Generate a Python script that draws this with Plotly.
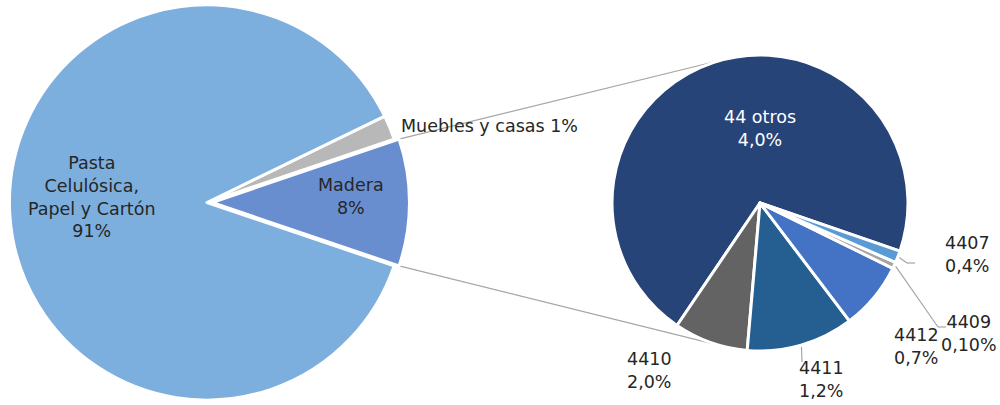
import math
import plotly.graph_objects as go

# ---------------- data ----------------
main_labels = ["Madera", "Muebles y casas", "Pasta Celulósica, Papel y Cartón"]
main_values = [10.4, 2.0, 87.6]          # slice sizes as drawn in the picture
main_text = ["Madera<br>8%", "Muebles y casas 1%",
             "Pasta<br>Celulósica,<br>Papel y Cartón<br>91%"]

sub_labels = ["44 otros", "4410", "4411", "4412", "4409", "4407"]
sub_values = [70.8, 8.1, 11.7, 7.4, 0.7, 1.3]  # slice sizes as drawn
sub_pct = ["4,0%", "2,0%", "1,2%", "0,7%", "0,10%", "0,4%"]

# ---------------- styles ----------------
W, H = 1000, 405
main_colors = ["#698ED0", "#B8B8B8", "#7CAFDD"]
sub_colors = ["#264478", "#636363", "#255E91", "#4472C4", "#A5A5A5", "#5B9BD5"]
pull_madera = 0.025
L_dom_x, L_dom_y = [0.0045, 0.4095], [0.0, 1.0]
R_dom_x, R_dom_y = [0.612, 0.908], [54 / 405, 350 / 405]
sub_start_deg = -19.0            # where "44 otros" starts (ccw from east)
FONT = "DejaVu Sans"
FS = 17.5
TXT = "#262626"
LINE = "#A6A6A6"

tot_m = sum(main_values)
frac_m = main_values[0] / tot_m
tot_s = sum(sub_values)

# plotly rotation: clockwise from 12 o'clock, first slice spans [rot, rot+a1] for ccw
rot_left = 90 - frac_m * 180
rot_right = (90 - sub_start_deg) - sub_values[0] / tot_s * 360

fig = go.Figure()
fig.add_trace(go.Pie(
    labels=main_labels, values=main_values, sort=False, direction="counterclockwise",
    rotation=rot_left, pull=[pull_madera, 0, 0], textinfo="none", hoverinfo="label+percent",
    marker=dict(colors=main_colors, line=dict(color="white", width=3)),
    domain=dict(x=L_dom_x, y=L_dom_y), showlegend=False))
fig.add_trace(go.Pie(
    labels=sub_labels, values=sub_values, sort=False, direction="counterclockwise",
    rotation=rot_right, textinfo="none", hoverinfo="label+percent",
    marker=dict(colors=sub_colors, line=dict(color="white", width=3)),
    domain=dict(x=R_dom_x, y=R_dom_y), showlegend=False))

# ---------- geometry replicated from plotly's pie layout (px, y down) ----------
def pie_geom(dx, dy, maxpull):
    bw, bh = W * (dx[1] - dx[0]), H * (dy[1] - dy[0])
    r = min(bw, bh) / (2 + 2 * maxpull)
    cx = W * (dx[0] + dx[1]) / 2
    cy = H * (1 - dy[0]) - bh / 2
    return cx, cy, r

cxL, cyL, rL = pie_geom(L_dom_x, L_dom_y, pull_madera)
cxR, cyR, rR = pie_geom(R_dom_x, R_dom_y, 0)

def px2paper(x, y):
    return x / W, 1 - y / H

half = frac_m * 180
pcx = cxL + pull_madera * rL  # pulled Madera center (mid-angle = 0)
corner_up = (pcx + rL * math.cos(math.radians(half)), cyL - rL * math.sin(math.radians(half)))
corner_dn = (pcx + rL * math.cos(math.radians(half)), cyL + rL * math.sin(math.radians(half)))

def tangent(P, upper):
    vx, vy = P[0] - cxR, P[1] - cyR
    d = math.hypot(vx, vy)
    base = math.atan2(vy, vx)
    a = math.acos(rR / d)
    ang = base + a if upper else base - a
    return cxR + rR * math.cos(ang), cyR + rR * math.sin(ang)

shapes = []
def seg(p, q):
    x0, y0 = px2paper(*p)
    x1, y1 = px2paper(*q)
    shapes.append(dict(type="line", xref="paper", yref="paper", x0=x0, y0=y0, x1=x1, y1=y1,
                       line=dict(color=LINE, width=1.2), layer="below"))

seg(corner_up, tangent(corner_up, True))
seg(corner_dn, tangent(corner_dn, False))

# sub slice mid-angles (ccw from east)
mids = []
a = sub_start_deg
for v in sub_values:
    span = v / tot_s * 360
    mids.append(a + span / 2)
    a += span

def on_circle(idx, extra=1.5):
    ang = math.radians(mids[idx])
    return cxR + (rR + extra) * math.cos(ang), cyR - (rR + extra) * math.sin(ang)

# leader lines (label side points in px)
leaders = {5: [(907, 263), (915, 263)],
           4: [(938, 327), (946, 327)],
           2: [(802, 362)]}
for idx, pts in leaders.items():
    prev = on_circle(idx)
    for p in pts:
        seg(prev, p)
        prev = p

# ---------- labels ----------
annotations = []
def ann(text, x, y, color=TXT, xanchor="center"):
    px, py = px2paper(x, y)
    annotations.append(dict(text=text, x=px, y=py, xref="paper", yref="paper",
                            xanchor=xanchor, yanchor="middle", showarrow=False, align="center",
                            font=dict(family=FONT, size=FS, color=color)))

main_pos = [(351, 196.5, "center"), (399, 126, "left"), (92, 197.5, "center")]
for t, (x, y, xa) in zip(main_text, main_pos):
    ann(t, x, y, xanchor=xa)

sub_pos = [(760, 128.5), (649, 370), (821, 379), (916, 346), (969, 333), (967, 254.5)]
for i, (lab, pct) in enumerate(zip(sub_labels, sub_pct)):
    x, y = sub_pos[i]
    ann(f"{lab}<br>{pct}", x, y, color="white" if i == 0 else TXT)

fig.update_layout(width=W, height=H, margin=dict(l=0, r=0, t=0, b=0),
                  paper_bgcolor="white", plot_bgcolor="white",
                  shapes=shapes, annotations=annotations,
                  font=dict(family=FONT, size=FS, color=TXT))
fig.write_html("out.html", config={"displayModeBar": False},
               post_script="document.body.style.margin='0';document.body.style.overflow='hidden';")
